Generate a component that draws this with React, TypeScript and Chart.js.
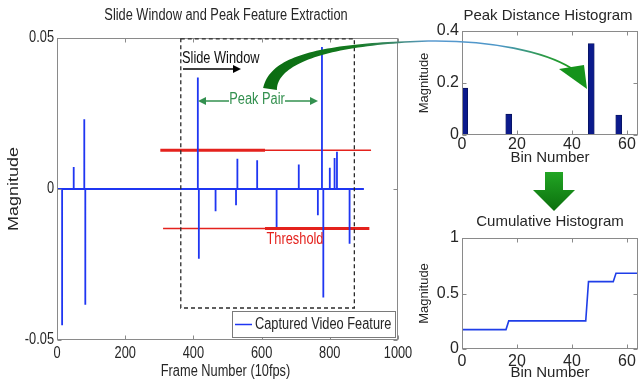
import React, { useEffect, useRef } from 'react';
import { Chart, registerables } from 'chart.js';

Chart.register(...registerables);

// ---------- Left panel: slide window & peak feature extraction ----------
const frameTicks = [0, 200, 400, 600, 800, 1000];
const frameTickLabels = ['0', '200', '400', '600', '800', '1000'];
const magnitudeTicks = [-0.05, 0, 0.05];
const magnitudeTickLabels = ['-0.05', '0', '0.05'];
const spikeFrames = [15, 49, 80, 83, 413, 416, 465, 525, 529, 587, 644, 709, 765, 777, 781, 800, 814, 821, 858];
const spikeValues = [-0.0451, 0.0073, 0.0231, -0.0383, 0.0369, -0.0231, -0.0074, -0.0054, 0.01, 0.0095, -0.0126, 0.0081, -0.0087, 0.047, -0.0359, 0.007, 0.0103, 0.0123, -0.0181];
const featureStart = 0;
const featureEnd = 900;
const thresholdUpper = 0.0128;
const thresholdLower = -0.0131;
const upperThickRange = [303, 610];
const upperThinRange = [610, 921];
const lowerThinRange = [311, 610];
const lowerThickRange = [610, 916];
const windowFrames = [363, 872];
const windowMagnitudes = [-0.0394, 0.0497];

// ---------- Top right: peak distance histogram ----------
const binTicks = [0, 20, 40, 60];
const binTickLabels = ['0', '20', '40', '60'];
const histBins = [1, 17, 47, 57];
const histValues = [0.18, 0.08, 0.352, 0.077];
const histTicks = [0, 0.2, 0.4];
const histTickLabels = ['0', '0.2', '0.4'];

// ---------- Bottom right: cumulative histogram ----------
const cumBins = [0, 16, 17, 45, 46, 55, 56, 64];
const cumValues = [0.175, 0.175, 0.253, 0.253, 0.607, 0.607, 0.683, 0.683];
const cumTicks = [0, 0.5, 1];
const cumTickLabels = ['0', '0.5', '1'];

const SANS = "'Liberation Sans', Arial, sans-serif";
const TEXT = '#262626';
const BLUE = '#1f36f2';
const RED = '#e4221d';
const GREEN_TXT = '#33904f';
const NARROW_SCALE = 0.8;

const labelFrom = (ticks: number[], labels: string[]) => (v: any) => {
  const i = ticks.findIndex((t) => Math.abs(t - Number(v)) < 1e-9);
  return i >= 0 ? labels[i] : '';
};

// condensed text (the left panel uses a narrow face)
function narrowText(ctx: CanvasRenderingContext2D, text: string, x: number, y: number, align: CanvasTextAlign, color: string, rotate = false, size = 16) {
  ctx.save();
  ctx.translate(x, y);
  if (rotate) ctx.rotate(-Math.PI / 2);
  ctx.scale(rotate ? 1 : NARROW_SCALE, rotate ? NARROW_SCALE : 1);
  ctx.font = `${size}px ${SANS}`;
  ctx.fillStyle = color;
  ctx.textAlign = align;
  ctx.textBaseline = 'middle';
  ctx.fillText(text, 0, 0);
  ctx.restore();
}

const framePlugin = (xt: number[], yt: number[]) => ({
  id: 'matlabFrame',
  afterDatasetsDraw(chart: any) {
    const { ctx, chartArea: a, scales } = chart;
    const l = Math.round(a.left) + 0.5;
    const r = Math.round(a.right) - 0.5;
    const t = Math.round(a.top) + 0.5;
    const b = Math.round(a.bottom) - 0.5;
    ctx.save();
    ctx.strokeStyle = '#8a8a8a';
    ctx.lineWidth = 1;
    ctx.strokeRect(l, t, r - l, b - t);
    ctx.beginPath();
    xt.forEach((v) => {
      const px = Math.round(scales.x.getPixelForValue(v)) + 0.5;
      ctx.moveTo(px, b); ctx.lineTo(px, b - 4);
      ctx.moveTo(px, t); ctx.lineTo(px, t + 4);
    });
    yt.forEach((v) => {
      const py = Math.round(scales.y.getPixelForValue(v)) + 0.5;
      ctx.moveTo(l, py); ctx.lineTo(l + 4, py);
      ctx.moveTo(r, py); ctx.lineTo(r - 4, py);
    });
    ctx.stroke();
    ctx.restore();
  },
});

const titlePlugin = (text: string, x: number, y: number, font: string) => ({
  id: 'panelTitle',
  afterDraw(chart: any) {
    const ctx = chart.ctx;
    ctx.save();
    ctx.font = font;
    ctx.fillStyle = TEXT;
    ctx.textAlign = 'center';
    ctx.textBaseline = 'middle';
    ctx.fillText(text, x, y);
    ctx.restore();
  },
});

function bez(p0: number[], p1: number[], p2: number[], p3: number[], t: number) {
  const u = 1 - t;
  return [
    u * u * u * p0[0] + 3 * u * u * t * p1[0] + 3 * u * t * t * p2[0] + t * t * t * p3[0],
    u * u * u * p0[1] + 3 * u * u * t * p1[1] + 3 * u * t * t * p2[1] + t * t * t * p3[1],
  ];
}
function bezD(p0: number[], p1: number[], p2: number[], p3: number[], t: number) {
  const u = 1 - t;
  return [
    3 * u * u * (p1[0] - p0[0]) + 6 * u * t * (p2[0] - p1[0]) + 3 * t * t * (p3[0] - p2[0]),
    3 * u * u * (p1[1] - p0[1]) + 6 * u * t * (p2[1] - p1[1]) + 3 * t * t * (p3[1] - p2[1]),
  ];
}

function drawArrows(ctx: CanvasRenderingContext2D) {
  // tapered thick green part of the curved arrow
  const P0 = [270, 89], P1 = [274, 58], P2 = [330, 44], P3 = [428, 41];
  const N = 48;
  const left: number[][] = [];
  const right: number[][] = [];
  for (let i = 0; i <= N; i++) {
    const t = i / N;
    const p = bez(P0, P1, P2, P3, t);
    const d = bezD(P0, P1, P2, P3, t);
    const len = Math.hypot(d[0], d[1]) || 1;
    const nx = -d[1] / len, ny = d[0] / len;
    const w = (1.4 + 12.5 * Math.pow(1 - t, 1.5)) / 2;
    left.push([p[0] + nx * w, p[1] + ny * w]);
    right.push([p[0] - nx * w, p[1] - ny * w]);
  }
  const g1 = ctx.createLinearGradient(265, 0, 430, 0);
  g1.addColorStop(0, '#0a6c10');
  g1.addColorStop(0.55, '#147a20');
  g1.addColorStop(0.8, '#3f8a72');
  g1.addColorStop(1, '#5a9ad0');
  ctx.fillStyle = g1;
  ctx.beginPath();
  left.forEach((p, i) => (i ? ctx.lineTo(p[0], p[1]) : ctx.moveTo(p[0], p[1])));
  for (let i = right.length - 1; i >= 0; i--) ctx.lineTo(right[i][0], right[i][1]);
  ctx.closePath();
  ctx.fill();

  // thin blue-to-green continuation
  const g2 = ctx.createLinearGradient(428, 0, 572, 0);
  g2.addColorStop(0, '#5a9ad0');
  g2.addColorStop(0.5, '#4c96c8');
  g2.addColorStop(0.8, '#2e9a4a');
  g2.addColorStop(1, '#179a1a');
  ctx.strokeStyle = g2;
  ctx.lineWidth = 1.6;
  ctx.beginPath();
  ctx.moveTo(428, 41);
  ctx.bezierCurveTo(492, 40, 545, 52, 571, 68);
  ctx.stroke();

  // arrow head
  ctx.fillStyle = '#15931b';
  ctx.beginPath();
  ctx.moveTo(559, 69);
  ctx.lineTo(584, 65);
  ctx.lineTo(587, 89);
  ctx.closePath();
  ctx.fill();

  // down arrow between right panels
  const g3 = ctx.createLinearGradient(0, 172, 0, 211);
  g3.addColorStop(0, '#22a524');
  g3.addColorStop(1, '#0b6f0d');
  ctx.fillStyle = g3;
  ctx.beginPath();
  ctx.moveTo(545, 172);
  ctx.lineTo(563, 172);
  ctx.lineTo(563, 190);
  ctx.lineTo(575, 190);
  ctx.lineTo(554, 211);
  ctx.lineTo(533, 190);
  ctx.lineTo(545, 190);
  ctx.closePath();
  ctx.fill();
}

function arrowLine(ctx: CanvasRenderingContext2D, x1: number, x2: number, y: number, color: string, head: 'left' | 'right') {
  ctx.strokeStyle = color;
  ctx.fillStyle = color;
  ctx.lineWidth = 1.5;
  ctx.beginPath();
  if (head === 'right') {
    ctx.moveTo(x1, y); ctx.lineTo(x2 - 6, y);
  } else {
    ctx.moveTo(x1 + 6, y); ctx.lineTo(x2, y);
  }
  ctx.stroke();
  ctx.beginPath();
  if (head === 'right') {
    ctx.moveTo(x2, y); ctx.lineTo(x2 - 8, y - 4); ctx.lineTo(x2 - 8, y + 4);
  } else {
    ctx.moveTo(x1, y); ctx.lineTo(x1 + 8, y - 4); ctx.lineTo(x1 + 8, y + 4);
  }
  ctx.closePath();
  ctx.fill();
}

const leftDecor = {
  id: 'leftDecor',
  afterDraw(chart: any) {
    const { ctx, scales } = chart;
    const xs = scales.x, ys = scales.y;
    ctx.save();

    // axis tick labels & titles (positions from the chart's own scales)
    xs.ticks.forEach((t: any) => {
      narrowText(ctx, labelFrom(frameTicks, frameTickLabels)(t.value), xs.getPixelForValue(t.value), 354, 'center', TEXT);
    });
    ys.ticks.forEach((t: any) => {
      narrowText(ctx, labelFrom(magnitudeTicks, magnitudeTickLabels)(t.value), 54, ys.getPixelForValue(t.value), 'right', TEXT);
    });
    narrowText(ctx, 'Frame Number (10fps)', (xs.left + xs.right) / 2 - 2, 372, 'center', TEXT);
    narrowText(ctx, 'Magnitude', 14, (ys.top + ys.bottom) / 2, 'center', TEXT, true, 18);

    // title
    narrowText(ctx, 'Slide Window and Peak Feature Extraction', 226, 16, 'center', TEXT);

    // slide window dashed box
    const wx1 = xs.getPixelForValue(windowFrames[0]);
    const wx2 = xs.getPixelForValue(windowFrames[1]);
    const wy1 = ys.getPixelForValue(windowMagnitudes[1]);
    const wy2 = ys.getPixelForValue(windowMagnitudes[0]);
    ctx.strokeStyle = '#2a2a2a';
    ctx.lineWidth = 1.3;
    ctx.setLineDash([4, 3]);
    ctx.strokeRect(wx1, wy1, wx2 - wx1, wy2 - wy1);
    ctx.setLineDash([]);

    // Slide Window label + arrow
    narrowText(ctx, 'Slide Window', 182, 59, 'left', '#111');
    arrowLine(ctx, 183, 241, 69, '#000', 'right');

    // Peak Pair
    narrowText(ctx, 'Peak Pair', 257, 100, 'center', GREEN_TXT);
    arrowLine(ctx, 198, 229, 101, GREEN_TXT, 'left');
    arrowLine(ctx, 285, 318, 101, GREEN_TXT, 'right');

    // Threshold
    narrowText(ctx, 'Threshold', 295, 240, 'center', RED);

    // legend
    ctx.fillStyle = '#fff';
    ctx.fillRect(232, 311, 163, 26);
    ctx.strokeStyle = '#7a7a7a';
    ctx.lineWidth = 1;
    ctx.strokeRect(232.5, 311.5, 163, 26);
    ctx.strokeStyle = BLUE;
    ctx.lineWidth = 1.5;
    ctx.beginPath();
    ctx.moveTo(235, 324.5);
    ctx.lineTo(252, 324.5);
    ctx.stroke();
    narrowText(ctx, 'Captured Video Feature', 255, 325, 'left', TEXT);

    drawArrows(ctx);
    ctx.restore();
  },
};

export default function App() {
  const leftRef = useRef<HTMLCanvasElement>(null);
  const topRef = useRef<HTMLCanvasElement>(null);
  const botRef = useRef<HTMLCanvasElement>(null);

  useEffect(() => {
    const featurePoints: { x: number; y: number }[] = [{ x: featureStart, y: 0 }];
    spikeFrames.forEach((f, i) => {
      featurePoints.push({ x: f, y: 0 }, { x: f, y: spikeValues[i] }, { x: f, y: 0 });
    });
    featurePoints.push({ x: featureEnd, y: 0 });

    const seg = (range: number[], v: number) => [{ x: range[0], y: v }, { x: range[1], y: v }];

    const tickFont = { family: SANS, size: 16 };
    const xTitleFont = { family: SANS, size: 15 };
    const yTitleFont = { family: SANS, size: 13 };

    const left = new Chart(leftRef.current as HTMLCanvasElement, {
      type: 'line',
      data: {
        datasets: [
          { data: featurePoints, borderColor: BLUE, borderWidth: 1.8, pointRadius: 0, borderJoinStyle: 'bevel' } as any,
          { data: seg(upperThickRange, thresholdUpper), borderColor: RED, borderWidth: 3, pointRadius: 0 },
          { data: seg(upperThinRange, thresholdUpper), borderColor: RED, borderWidth: 1.5, pointRadius: 0 },
          { data: seg(lowerThinRange, thresholdLower), borderColor: RED, borderWidth: 1.5, pointRadius: 0 },
          { data: seg(lowerThickRange, thresholdLower), borderColor: RED, borderWidth: 3, pointRadius: 0 },
        ],
      },
      options: {
        responsive: false,
        animation: false,
        layout: { padding: { top: 38, right: 241, left: 0, bottom: 0 } },
        plugins: { legend: { display: false }, title: { display: false }, tooltip: { enabled: false } },
        scales: {
          x: {
            type: 'linear', min: 0, max: 1000,
            afterBuildTicks: (s: any) => { s.ticks = frameTicks.map((v) => ({ value: v })); },
            afterFit: (s: any) => { s.height = 43; },
            grid: { display: false, drawTicks: false },
            border: { display: false },
            ticks: { display: false },
            title: { display: false },
          },
          y: {
            type: 'linear', min: -0.05, max: 0.05,
            afterBuildTicks: (s: any) => { s.ticks = magnitudeTicks.map((v) => ({ value: v })); },
            afterFit: (s: any) => { s.width = 57; },
            grid: { display: false, drawTicks: false },
            border: { display: false },
            ticks: { display: false },
            title: { display: false },
          },
        },
      } as any,
      plugins: [framePlugin(frameTicks, magnitudeTicks), leftDecor],
    });

    const top = new Chart(topRef.current as HTMLCanvasElement, {
      type: 'bar',
      data: {
        datasets: [
          {
            data: histBins.map((b, i) => ({ x: b, y: histValues[i] })),
            backgroundColor: '#0b1a8c',
            borderColor: '#06115a',
            borderWidth: 0.8,
            barThickness: 6,
          } as any,
        ],
      },
      options: {
        responsive: false,
        animation: false,
        layout: { padding: { top: 31, right: 1, left: 0, bottom: 0 } },
        plugins: { legend: { display: false }, title: { display: false }, tooltip: { enabled: false } },
        scales: {
          x: {
            type: 'linear', min: 0, max: 64, offset: false,
            afterBuildTicks: (s: any) => { s.ticks = binTicks.map((v) => ({ value: v })); },
            afterFit: (s: any) => { s.height = 35; },
            grid: { display: false, drawTicks: false, offset: false },
            border: { display: false },
            ticks: { font: tickFont, color: TEXT, padding: 0, maxRotation: 0, autoSkip: false, callback: labelFrom(binTicks, binTickLabels) },
            title: { display: true, text: 'Bin Number', font: xTitleFont, color: TEXT, padding: { top: 0, bottom: 3 } },
          },
          y: {
            type: 'linear', min: 0, max: 0.4,
            afterBuildTicks: (s: any) => { s.ticks = histTicks.map((v) => ({ value: v })); },
            afterFit: (s: any) => { s.width = 50; },
            grid: { display: false, drawTicks: false },
            border: { display: false },
            ticks: { font: tickFont, color: TEXT, padding: 3, autoSkip: false, callback: labelFrom(histTicks, histTickLabels) },
            title: { display: true, text: 'Magnitude', font: yTitleFont, color: TEXT, padding: { top: 5, bottom: 0 } },
          },
        },
      } as any,
      plugins: [framePlugin(binTicks, histTicks), titlePlugin('Peak Distance Histogram', 136, 16, `15px ${SANS}`)],
    });

    const bottom = new Chart(botRef.current as HTMLCanvasElement, {
      type: 'line',
      data: {
        datasets: [
          {
            data: cumBins.map((b, i) => ({ x: b, y: cumValues[i] })),
            borderColor: '#1f3ee8',
            borderWidth: 1.6,
            pointRadius: 0,
          },
        ],
      },
      options: {
        responsive: false,
        animation: false,
        layout: { padding: { top: 68, right: 1, left: 0, bottom: 0 } },
        plugins: { legend: { display: false }, title: { display: false }, tooltip: { enabled: false } },
        scales: {
          x: {
            type: 'linear', min: 0, max: 64,
            afterBuildTicks: (s: any) => { s.ticks = binTicks.map((v) => ({ value: v })); },
            afterFit: (s: any) => { s.height = 34; },
            grid: { display: false, drawTicks: false },
            border: { display: false },
            ticks: { font: tickFont, color: TEXT, padding: 3, maxRotation: 0, autoSkip: false, callback: labelFrom(binTicks, binTickLabels) },
            title: { display: true, text: 'Bin Number', font: xTitleFont, color: TEXT, padding: { top: 0, bottom: 1 } },
          },
          y: {
            type: 'linear', min: 0, max: 1,
            afterBuildTicks: (s: any) => { s.ticks = cumTicks.map((v) => ({ value: v })); },
            afterFit: (s: any) => { s.width = 50; },
            grid: { display: false, drawTicks: false },
            border: { display: false },
            ticks: { font: tickFont, color: TEXT, padding: 3, autoSkip: false, callback: labelFrom(cumTicks, cumTickLabels) },
            title: { display: true, text: 'Magnitude', font: yTitleFont, color: TEXT, padding: { top: 5, bottom: 0 } },
          },
        },
      } as any,
      plugins: [framePlugin(binTicks, cumTicks), titlePlugin('Cumulative Histogram', 138, 52, `15px ${SANS}`)],
    });

    return () => {
      left.destroy();
      top.destroy();
      bottom.destroy();
    };
  }, []);

  return (
    <div style={{ position: 'absolute', left: 0, top: 0, width: 639, height: 383, background: '#fff', overflow: 'hidden' }}>
      <canvas ref={topRef} width={227} height={170} style={{ position: 'absolute', left: 412, top: 0, width: 227, height: 170 }} />
      <canvas ref={botRef} width={227} height={213} style={{ position: 'absolute', left: 412, top: 170, width: 227, height: 213 }} />
      <canvas ref={leftRef} width={639} height={383} style={{ position: 'absolute', left: 0, top: 0, width: 639, height: 383 }} />
    </div>
  );
}
